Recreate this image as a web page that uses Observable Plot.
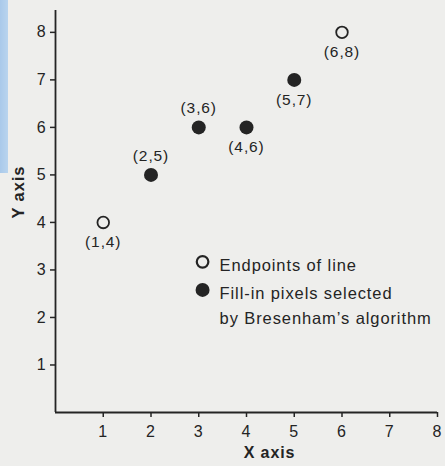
<!DOCTYPE html>
<html>
<head>
<meta charset="utf-8">
<script src="https://cdn.jsdelivr.net/npm/d3@7"></script>
<script src="https://cdn.jsdelivr.net/npm/@observablehq/plot@0.6"></script>
<style>
  html, body { margin: 0; padding: 0; background: #eeeeec; }
  #wrap { position: relative; width: 445px; height: 466px; overflow: hidden; }
  #strip { position: absolute; left: 0; top: 0; width: 8px; height: 173px;
           background: linear-gradient(90deg, #a9c9ea, #b9d4ee); }
  svg text { letter-spacing: 0.9px; }
</style>
</head>
<body>
<div id="wrap"><div id="strip"></div></div>
<script>
// Pixel coordinates of the line from (1,4) to (6,8)
const px = [1, 2, 3, 4, 5, 6];
const py = [4, 5, 6, 6, 7, 8];
const kind = ["open", "filled", "filled", "filled", "filled", "open"];
const labelSide = ["below", "above", "above", "below", "below", "below"];

const xTicks = [1, 2, 3, 4, 5, 6, 7, 8];
const yTicks = [1, 2, 3, 4, 5, 6, 7, 8];
const xLabel = "X axis";
const yLabel = "Y axis";

// Legend entries (anchored in data space)
const legendKind = ["open", "filled"];
const legendX = [3.08, 3.08];
const legendY = [3.17, 2.58];
const legendText = ["Endpoints of line", "Fill-in pixels selected\nby Bresenham\u2019s algorithm"];

const points = px.map((x, i) => ({x, y: py[i], kind: kind[i], side: labelSide[i], label: `(${x},${py[i]})`}));
const legend = legendKind.map((k, i) => ({x: legendX[i], y: legendY[i], kind: k, text: legendText[i]}));

const ink = "#242424";
const yMax = 8.46;

const chart = Plot.plot({
  width: 445,
  height: 466,
  marginLeft: 55,
  marginRight: 8,
  marginTop: 10,
  marginBottom: 54,
  x: {domain: [0, 8]},
  y: {domain: [0, yMax]},
  style: {background: "transparent", fontFamily: "'Liberation Sans', Arial, sans-serif", color: ink},
  marks: [
    Plot.ruleX([0], {y1: 0, y2: yMax, stroke: ink, strokeWidth: 1.8}),
    Plot.ruleY([0], {x1: 0, x2: 8, stroke: ink, strokeWidth: 1.8}),
    Plot.axisX({ticks: xTicks, tickSize: 5, tickPadding: 8, fontSize: 16, label: null, stroke: ink, strokeWidth: 1.5, fill: ink}),
    Plot.axisY({ticks: yTicks, tickSize: 5, tickPadding: 4, fontSize: 16, label: null, stroke: ink, strokeWidth: 1.5, fill: ink}),
    Plot.text([xLabel], {frameAnchor: "bottom", dx: 23, dy: 40, lineAnchor: "middle", fontSize: 16, fontWeight: "bold", fill: ink}),
    Plot.text([yLabel], {frameAnchor: "left", rotate: -90, dx: -37, dy: 7, lineAnchor: "middle", fontSize: 16.5, fontWeight: "bold", fill: ink}),
    // points
    Plot.dot(points.filter(d => d.kind === "filled"), {x: "x", y: "y", r: 7, fill: ink, stroke: "none"}),
    Plot.dot(points.filter(d => d.kind === "open"), {x: "x", y: "y", r: 5.8, fill: "none", stroke: ink, strokeWidth: 1.8}),
    Plot.text(points.filter(d => d.side === "below"), {x: "x", y: "y", text: "label", dy: 20, fontSize: 15.5, fill: ink}),
    Plot.text(points.filter(d => d.side === "above"), {x: "x", y: "y", text: "label", dy: -19, fontSize: 15.5, fill: ink}),
    // legend
    Plot.dot(legend.filter(d => d.kind === "filled"), {x: "x", y: "y", r: 7, fill: ink, stroke: "none"}),
    Plot.dot(legend.filter(d => d.kind === "open"), {x: "x", y: "y", r: 5.8, fill: "none", stroke: ink, strokeWidth: 2.2}),
    Plot.text(legend, {x: "x", y: "y", text: "text", dx: 17, dy: -8, textAnchor: "start", lineAnchor: "top", lineHeight: 1.5, fontSize: 16.5, fill: ink})
  ]
});
// slightly looser tracking for the legend block, as in the printed figure
d3.select(chart).selectAll("g[aria-label='text']").filter((d, i, n) => i === n.length - 1).style("letter-spacing", "1.15px");
document.getElementById("wrap").appendChild(chart);
chart.style.position = "absolute";
chart.style.left = "0";
chart.style.top = "0";
</script>
</body>
</html>
